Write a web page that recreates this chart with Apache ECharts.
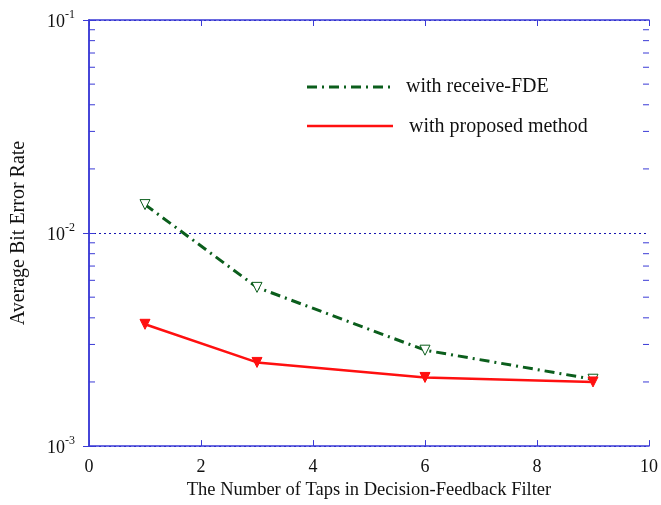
<!DOCTYPE html>
<html><head><meta charset="utf-8">
<script src="https://cdn.jsdelivr.net/npm/echarts@6/dist/echarts.min.js"></script>
<style>html,body{margin:0;padding:0;background:#fff}#c{width:661px;height:505px}</style>
</head><body><div id="c"></div>
<script>
var taps = [1, 3, 6, 9];
var berFDE = [0.0136, 0.00556, 0.00282, 0.00206];
var berProposed = [0.00373, 0.00247, 0.00210, 0.00200];
var xTicks = [0, 2, 4, 6, 8, 10];
var yMinorTicks = [0.002,0.003,0.004,0.005,0.006,0.007,0.008,0.009,0.02,0.03,0.04,0.05,0.06,0.07,0.08,0.09];
var seriesNames = ['with receive-FDE', 'with proposed method'];
var xTitle = 'The Number of Taps in Decision-Feedback Filter';
var yTitle = 'Average Bit Error Rate';

var FONT = '"Liberation Serif","Times New Roman",serif';
var AX = '#3a3ad6';
var GREEN = '#0b5e1c';
var RED = '#ff1010';

function pairs(xs, ys){ return xs.map(function(x,i){return [x, ys[i]];}); }

var chart = echarts.init(document.getElementById('c'), null, {renderer:'canvas'});
var baseX = {
  type:'value', min:0, max:10, interval:2,
  axisLine:{show:true, lineStyle:{color:AX, width:1.5}},
  axisTick:{show:true, inside:true, length:6, lineStyle:{color:AX, width:1}},
  splitLine:{show:false}
};
var baseY = {
  type:'log', logBase:10, min:0.001, max:0.1,
  axisLine:{show:true, lineStyle:{color:AX, width:1.5}},
  axisTick:{show:true, inside:true, length:6, lineStyle:{color:AX, width:1}},
  minorTick:{show:false}
};
chart.setOption({
  animation:false,
  backgroundColor:'#fff',
  grid:{left:89, right:11, top:20, bottom:58, containLabel:false},
  xAxis:[
    Object.assign({}, baseX, {position:'bottom',
      name:xTitle, nameLocation:'middle', nameGap:25,
      nameTextStyle:{fontFamily:FONT, fontSize:18.5, color:'#111'},
      axisLabel:{show:true, margin:12, fontFamily:FONT, fontSize:18, color:'#111'}}),
    Object.assign({}, baseX, {position:'top', axisLabel:{show:false}})
  ],
  yAxis:[
    Object.assign({}, baseY, {position:'left',
      name:yTitle, nameLocation:'middle', nameGap:60, nameRotate:90,
      nameTextStyle:{fontFamily:FONT, fontSize:20, color:'#111'},
      splitLine:{show:true, lineStyle:{color:'#1515b0', type:[2,3], width:1}},
      axisLabel:{show:true, margin:14,
        formatter:function(v){ var e = Math.round(Math.log10(v)); return '{b|10}{s|' + e + '}'; },
        rich:{b:{fontFamily:FONT, fontSize:18, color:'#111', verticalAlign:'bottom'},
              s:{fontFamily:FONT, fontSize:12, color:'#111', verticalAlign:'top', padding:[0,0,10,0]}}}}),
    Object.assign({}, baseY, {position:'right', axisLabel:{show:false}, splitLine:{show:false}})
  ],
  graphic:[
    {type:'line', shape:{x1:307,y1:87,x2:393,y2:87}, style:{stroke:GREEN, lineWidth:3, lineDash:[10,5,2,5]}},
    {type:'text', left:406, top:77, style:{text:seriesNames[0], font:'20px '+FONT, fill:'#111'}},
    {type:'line', shape:{x1:307,y1:126,x2:393,y2:126}, style:{stroke:RED, lineWidth:2.5}},
    {type:'text', left:409, top:117, style:{text:seriesNames[1], font:'20px '+FONT, fill:'#111'}}
  ],
  series:[
    {type:'custom', xAxisIndex:0, yAxisIndex:0, silent:true, clip:false,
      data:yMinorTicks.map(function(v){return [v];}),
      renderItem:function(params, api){
        var v = api.value(0);
        var l = api.coord([0, v]); var r = api.coord([10, v]);
        return {type:'group', children:[
          {type:'line', shape:{x1:l[0], y1:l[1], x2:l[0]+6, y2:l[1]}, style:{stroke:AX, lineWidth:1}},
          {type:'line', shape:{x1:r[0], y1:r[1], x2:r[0]-6, y2:r[1]}, style:{stroke:AX, lineWidth:1}}
        ]};
      }},
    {name:seriesNames[0], type:'line', data:pairs(taps, berFDE),
      lineStyle:{color:GREEN, width:3, type:[10,5,2,5]},
      symbol:'triangle', symbolSize:10, symbolRotate:180,
      itemStyle:{color:'#fff', borderColor:GREEN, borderWidth:1}, z:3},
    {name:seriesNames[1], type:'line', data:pairs(taps, berProposed),
      lineStyle:{color:RED, width:2.5},
      symbol:'triangle', symbolSize:10, symbolRotate:180,
      itemStyle:{color:RED, borderColor:RED, borderWidth:1}, z:4}
  ]
});
</script></body></html>
